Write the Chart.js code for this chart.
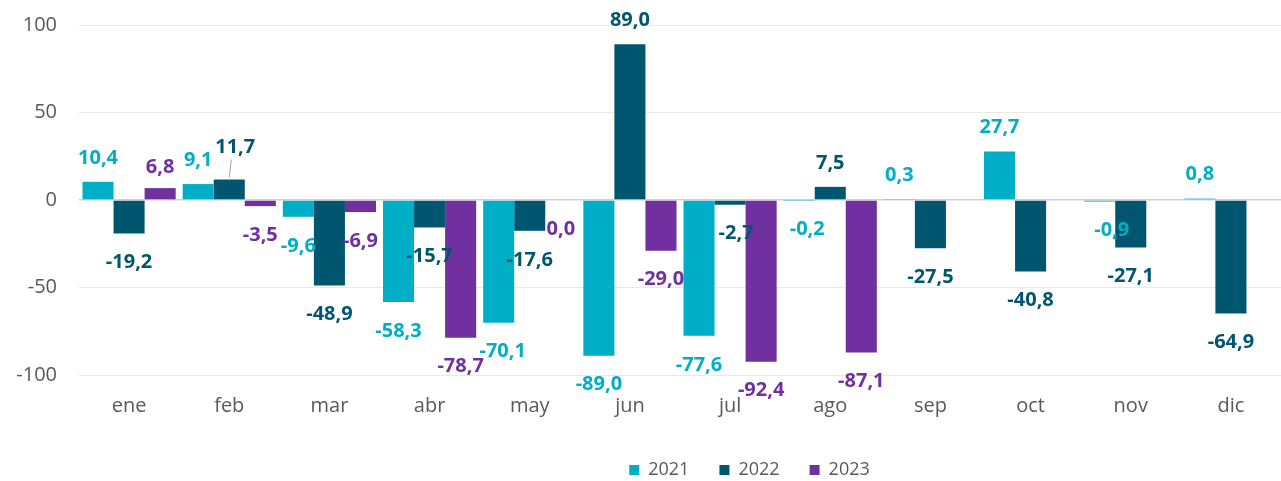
<!DOCTYPE html>
<html>
<head>
<meta charset="utf-8">
<script src="https://cdn.jsdelivr.net/npm/chart.js@4"></script>
<style>
  html, body { margin: 0; padding: 0; background: #fff; }
  #wrap { width: 1281px; height: 481px; position: relative; }
</style>
</head>
<body>
<div id="wrap"><canvas id="chart"></canvas></div>
<script>
const months = ["ene", "feb", "mar", "abr", "may", "jun", "jul", "ago", "sep", "oct", "nov", "dic"];
const years = ["2021", "2022", "2023"];
const values2021 = [10.4, 9.1, -9.6, -58.3, -70.1, -89.0, -77.6, -0.2, 0.3, 27.7, -0.9, 0.8];
const values2022 = [-19.2, 11.7, -48.9, -15.7, -17.6, 89.0, -2.7, 7.5, -27.5, -40.8, -27.1, -64.9];
const values2023 = [6.8, -3.5, -6.9, -78.7, 0.0, -29.0, -92.4, -87.1, null, null, null, null];
const yTicks = [-100, -50, 0, 50, 100];

const colors = ["#00AEC7", "#00566F", "#7030A0"];

// small label nudges like the hand-moved labels in the original
const nudges = {
  "1:1": { dx: 6, dy: -8, leader: true },
  "0:4": { dx: 4, dy: 0 },
  "1:6": { dx: 6, dy: 0 },
  "0:7": { dx: 8, dy: 0 },
  "0:10": { dx: 12, dy: 0 },
  "2:0": { dx: 0, dy: 3 }
};

const valueLabels = {
  id: "valueLabels",
  afterDatasetsDraw(chart) {
    const ctx = chart.ctx;
    ctx.save();
    ctx.font = "bold 20px 'Open Sans'";
    ctx.textAlign = "center";
    ctx.textBaseline = "middle";
    chart.data.datasets.forEach((ds, di) => {
      const meta = chart.getDatasetMeta(di);
      meta.data.forEach((bar, i) => {
        const v = ds.data[i];
        if (v === null || v === undefined) return;
        const n = nudges[di + ":" + i] || { dx: 0, dy: 0 };
        const x = bar.x + n.dx;
        const y = (v > 0 ? bar.y - 24 : bar.y + 29) + n.dy;
        if (n.leader) {
          ctx.strokeStyle = "#A6A6A6";
          ctx.lineWidth = 1;
          ctx.beginPath();
          ctx.moveTo(bar.x, bar.y - 2);
          ctx.lineTo(x - 4, y + 12);
          ctx.stroke();
        }
        ctx.fillStyle = ds.backgroundColor;
        ctx.fillText(v.toFixed(1).replace(".", ","), x, y);
      });
    });
    ctx.restore();
  }
};

// the original legend sits right of centre
const legendShift = {
  id: "legendShift",
  afterUpdate(chart) {
    const lg = chart.legend;
    if (!lg) return;
    lg.left += 109;
    lg.right += 109;
  }
};

const seriesData = [values2021, values2022, values2023];

new Chart(document.getElementById("chart"), {
  type: "bar",
  data: {
    labels: months,
    datasets: years.map((y, i) => ({
      label: y,
      data: seriesData[i],
      backgroundColor: colors[i],
      borderWidth: 0,
      categoryPercentage: 0.93,
      barPercentage: 1.0
    }))
  },
  options: {
    responsive: true,
    maintainAspectRatio: false,
    animation: false,
    layout: { padding: { top: 25, right: 0, left: 0, bottom: -8 } },
    scales: {
      x: {
        grid: { display: false },
        border: { display: false },
        afterFit: axis => { axis.height = 56; },
        ticks: { color: "#595959", font: { family: "Open Sans", size: 20 }, padding: 11 }
      },
      y: {
        min: -100,
        max: 100,
        afterBuildTicks: axis => { axis.ticks = yTicks.map(v => ({ value: v })); },
        afterFit: axis => {
          axis.width = 79;
          axis.paddingTop = 0;
          axis.paddingBottom = 0;
        },
        border: { display: false },
        grid: {
          drawTicks: false,
          color: ctx => (ctx.tick && ctx.tick.value === 0 ? "#D0D0D0" : "#E9E9E9"),
          lineWidth: ctx => (ctx.tick && ctx.tick.value === 0 ? 1.5 : 1)
        },
        ticks: { color: "#595959", font: { family: "Open Sans", size: 20 }, padding: 22 }
      }
    },
    plugins: {
      legend: {
        position: "bottom",
        labels: {
          color: "#595959",
          font: { family: "Open Sans", size: 18 },
          boxWidth: 10,
          boxHeight: 10,
          padding: 30
        }
      },
      tooltip: { enabled: false }
    }
  },
  plugins: [valueLabels, legendShift]
});
</script>
</body>
</html>
